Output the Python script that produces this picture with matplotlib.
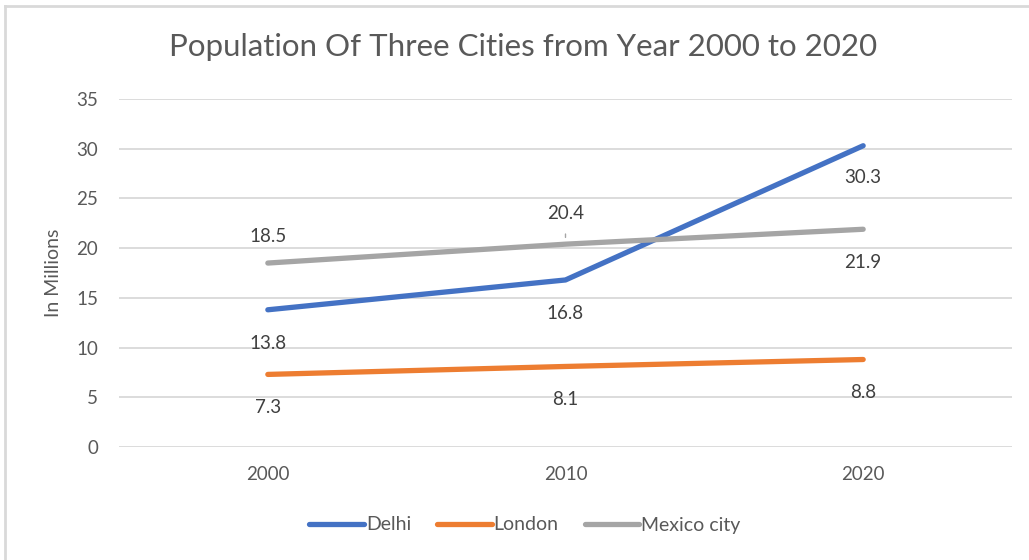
import matplotlib
matplotlib.use("Agg")
import matplotlib.pyplot as plt
from matplotlib.lines import Line2D

plt.rcParams["font.family"] = ["Lato", "DejaVu Sans"]

years = ["2000", "2010", "2020"]
delhi = [13.8, 16.8, 30.3]
london = [7.3, 8.1, 8.8]
mexico = [18.5, 20.4, 21.9]

series = [
    ("Delhi", delhi, "#4472C4", [-24, -24, -23]),
    ("London", london, "#ED7D31", [-24, -24, -24]),
    ("Mexico city", mexico, "#A5A5A5", [19, 22, -24]),
]

fig = plt.figure(figsize=(10.29, 5.6), dpi=100)
ax = fig.add_axes([119 / 1029, 1 - 447 / 560, (1012 - 119) / 1029, (447 - 99) / 560])

# chart frame (only left/top edges visible in the source)
fig.add_artist(Line2D([5 / 1029, 5 / 1029], [0, 1 - 6 / 560], color="#D9D9D9", lw=2,
                      transform=fig.transFigure))
fig.add_artist(Line2D([5 / 1029, 1], [1 - 6 / 560, 1 - 6 / 560], color="#D9D9D9", lw=2,
                      transform=fig.transFigure))

x = list(range(len(years)))
for name, vals, col, offs in series:
    ax.plot(x, vals, color=col, lw=3.8, solid_capstyle="round", label=name, zorder=3)
    for xi, v, o in zip(x, vals, offs):
        ax.annotate(f"{v}", (xi, v), xytext=(0, o), textcoords="offset points",
                    ha="center", va="center", fontsize=13.5, color="#404040")

# leader line for the 20.4 label
ax.annotate("", (1, mexico[1] + 0.4), xytext=(1, mexico[1] + 1.3),
            arrowprops=dict(arrowstyle="-", color="#A5A5A5", lw=1))

ax.set_xlim(-0.5, 2.5)
ax.set_ylim(0, 35)
ax.set_yticks(range(0, 36, 5))
ax.set_xticks(x)
ax.set_xticklabels(years)
ax.grid(axis="y", color="#D9D9D9", lw=1.3)
ax.set_axisbelow(True)
for s in ax.spines.values():
    s.set_visible(False)
ax.tick_params(length=0, labelsize=13.5, colors="#595959")
ax.tick_params(axis="y", pad=15)
ax.tick_params(axis="x", pad=14)
ax.set_ylabel("In Millions", fontsize=14, color="#595959", labelpad=10)

fig.text(523 / 1029, 1 - 47 / 560, "Population Of Three Cities from Year 2000 to 2020",
         ha="center", va="center", fontsize=22.5, color="#595959")

fig.legend(loc="center", bbox_to_anchor=(525 / 1029, 1 - 525 / 560), ncol=3,
           frameon=False, fontsize=14, handlelength=2.8, handletextpad=0.1,
           columnspacing=1.35, labelcolor="#595959")

fig.savefig("out.png", dpi=100)
